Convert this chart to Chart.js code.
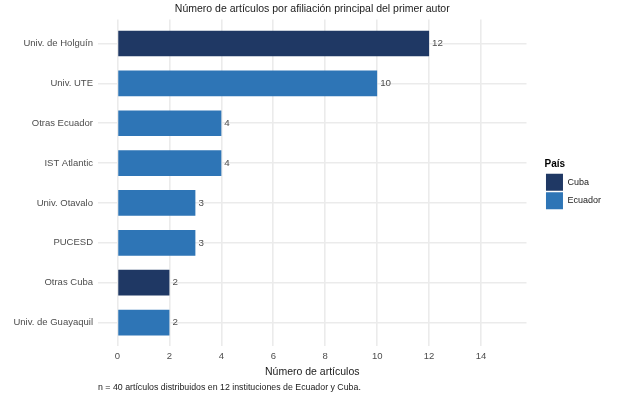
<!DOCTYPE html>
<html>
<head>
<meta charset="utf-8">
<script src="https://cdn.jsdelivr.net/npm/chart.js@4.4.1/dist/chart.umd.min.js"></script>
<style>
    html, body { margin: 0; padding: 0; background: #fff; }
    #wrap { width: 625px; height: 403px; }
</style>
</head>
<body>
<div id="wrap"><canvas id="myChart"></canvas></div>
<script>
// datos (de arriba hacia abajo)
const instituciones = ['Univ. de Holguín', 'Univ. UTE', 'Otras Ecuador', 'IST Atlantic',
    'Univ. Otavalo', 'PUCESD', 'Otras Cuba', 'Univ. de Guayaquil'];
const articulos = [12, 10, 4, 4, 3, 3, 2, 2];
const paisDe = ['Cuba', 'Ecuador', 'Ecuador', 'Ecuador', 'Ecuador', 'Ecuador', 'Cuba', 'Ecuador'];
const paises = ['Cuba', 'Ecuador'];
const coloresPais = ['#1f3864', '#2e75b6'];
const xTicks = [0, 2, 4, 6, 8, 10, 12, 14];
const xLimites = [-0.75, 15.75];

Chart.defaults.font.family = '"Liberation Sans", Arial, sans-serif';

// un dataset por país, apilados para que cada barra ocupe su sitio
let datasets = [];
for (let p = 0; p < paises.length; p++) {
    datasets.push({
        label: paises[p],
        data: articulos.map((v, i) => paisDe[i] === paises[p] ? v : null),
        backgroundColor: coloresPais[p],
        borderWidth: 0,
        barPercentage: 0.645,
        categoryPercentage: 1
    });
}

// número al final de cada barra
const etiquetasValor = {
    id: 'etiquetasValor',
    afterDatasetsDraw(chart) {
        let ctx = chart.ctx;
        ctx.save();
        ctx.font = '9.8px "Liberation Sans", Arial, sans-serif';
        ctx.fillStyle = '#4d4d4d';
        ctx.textBaseline = 'middle';
        chart.data.datasets.forEach((ds, i) => {
            chart.getDatasetMeta(i).data.forEach((bar, j) => {
                if (ds.data[j] == null) return;
                ctx.fillText(ds.data[j], bar.x + 3, bar.y);
            });
        });
        ctx.restore();
    }
};

let ctx = document.getElementById('myChart');
let myChart = new Chart(ctx, {
    type: 'bar',
    data: { labels: instituciones, datasets: datasets },
    plugins: [etiquetasValor],
    options: {
        indexAxis: 'y',
        responsive: true,
        maintainAspectRatio: false,
        animation: false,
        layout: { padding: { left: 0, right: 14, top: 0, bottom: 0 } },
        scales: {
            x: {
                stacked: true,
                min: xLimites[0],
                max: xLimites[1],
                afterBuildTicks: s => { s.ticks = xTicks.map(v => ({ value: v })); },
                grid: { color: '#ebebeb', lineWidth: 1.6, drawTicks: false },
                border: { display: false },
                ticks: { color: '#4d4d4d', font: { size: 9.5 }, padding: 4 },
                title: {
                    display: true, text: 'Número de artículos', color: '#1a1a1a',
                    font: { size: 10.5 }, padding: { top: 0, bottom: 0 }
                }
            },
            y: {
                stacked: true,
                // expansión discreta de 0.6 a cada lado, como en ggplot
                afterBuildTicks: s => { s._startValue = -0.6; s._valueRange = instituciones.length - 1 + 1.2; },
                afterFit: s => { s.width = 98; },
                grid: { color: '#ebebeb', lineWidth: 1.6, drawTicks: false, offset: false },
                border: { display: false },
                ticks: { color: '#4d4d4d', font: { size: 9.5 }, padding: 5 }
            },
            hueco: {
                type: 'linear',
                position: 'right',
                grid: { display: false },
                border: { display: false },
                ticks: { display: false },
                afterFit: s => { s.width = 18; }
            }
        },
        plugins: {
            title: {
                display: true,
                text: 'Número de artículos por afiliación principal del primer autor',
                color: '#1a1a1a',
                fullSize: false,
                font: { size: 10.5, weight: 'normal' },
                padding: { top: 3, bottom: 4 }
            },
            subtitle: {
                display: true,
                text: 'n = 40 artículos distribuidos en 12 instituciones de Ecuador y Cuba.',
                position: 'bottom',
                align: 'start',
                fullSize: false,
                color: '#1a1a1a',
                font: { size: 8.8 },
                padding: { top: 4, bottom: 10 }
            },
            legend: {
                position: 'right',
                align: 'center',
                fullSize: false,
                title: {
                    display: true, text: 'País', color: '#000', position: 'start',
                    font: { size: 10, weight: 'bold' }, padding: { top: 4, bottom: 1 }
                },
                labels: { boxWidth: 17, boxHeight: 17, padding: 1.5, color: '#1a1a1a', font: { size: 9 } }
            },
            tooltip: { enabled: false }
        }
    }
});
</script>
</body>
</html>
